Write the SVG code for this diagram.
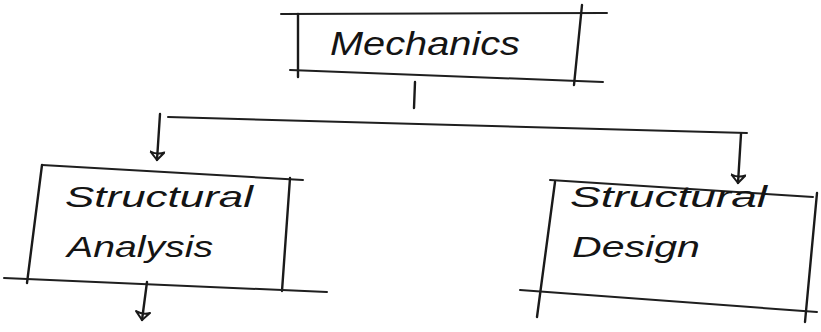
<svg xmlns="http://www.w3.org/2000/svg" width="821" height="332" viewBox="0 0 821 332">
<defs>
<style>
.ln{stroke:#1a1a1a;stroke-width:2.4;fill:none;stroke-linecap:round;stroke-linejoin:round}
.hl{stroke:#1f1f1f;stroke-width:2;fill:none;stroke-linecap:round}
.tx{font-family:"Liberation Sans","DejaVu Sans",sans-serif;font-style:italic;fill:#141414}
</style>
<marker id="ah" viewBox="0 0 12 16" refX="10" refY="8" markerWidth="12" markerHeight="16" markerUnits="userSpaceOnUse" orient="auto">
<path d="M2,1 L10,8 L2,15 M2,1 Q5,8 2,15" stroke="#1a1a1a" stroke-width="2" fill="none" stroke-linejoin="round" stroke-linecap="round"/>
</marker>
</defs>
<rect width="821" height="332" fill="#ffffff"/>

<g id="node-mechanics">
<path class="hl" d="M281,14 L607,13"/>
<path class="ln" d="M298,14 L298,77"/>
<path class="hl" d="M290,70 L603,82"/>
<path class="ln" d="M582,5 L574,85"/>
<text class="tx" x="330" y="55" font-size="34" textLength="190" lengthAdjust="spacingAndGlyphs">Mechanics</text>
</g>

<g id="node-structural-analysis">
<path class="hl" d="M42,165 L303,180"/>
<path class="ln" d="M42,165 L27,283"/>
<path class="ln" d="M290,178 L282,291"/>
<path class="hl" d="M4,278 L327,292"/>
<text class="tx" x="65" y="207" font-size="30" textLength="188" lengthAdjust="spacingAndGlyphs">Structural</text>
<text class="tx" x="67" y="257" font-size="30" textLength="146" lengthAdjust="spacingAndGlyphs">Analysis</text>
</g>

<g id="node-structural-design">
<path class="hl" d="M550,180 L813,197"/>
<path class="ln" d="M555,182 L537,317"/>
<path class="hl" d="M520,290 L817,312"/>
<path class="ln" d="M817,193 L805,322"/>
<text class="tx" x="570" y="207" font-size="30" textLength="197" lengthAdjust="spacingAndGlyphs">Structural</text>
<text class="tx" x="572" y="257" font-size="30" textLength="128" lengthAdjust="spacingAndGlyphs">Design</text>
</g>

<g id="connectors">
<path class="ln" d="M415,82 L414,108"/>
<path class="hl" d="M168,117 L747,133"/>
<path class="ln" d="M160,114 L157,160" marker-end="url(#ah)"/>
<path class="ln" d="M741,134 L738,183" marker-end="url(#ah)"/>
<path class="ln" d="M147,282 L142,320" marker-end="url(#ah)"/>
</g>
</svg>
